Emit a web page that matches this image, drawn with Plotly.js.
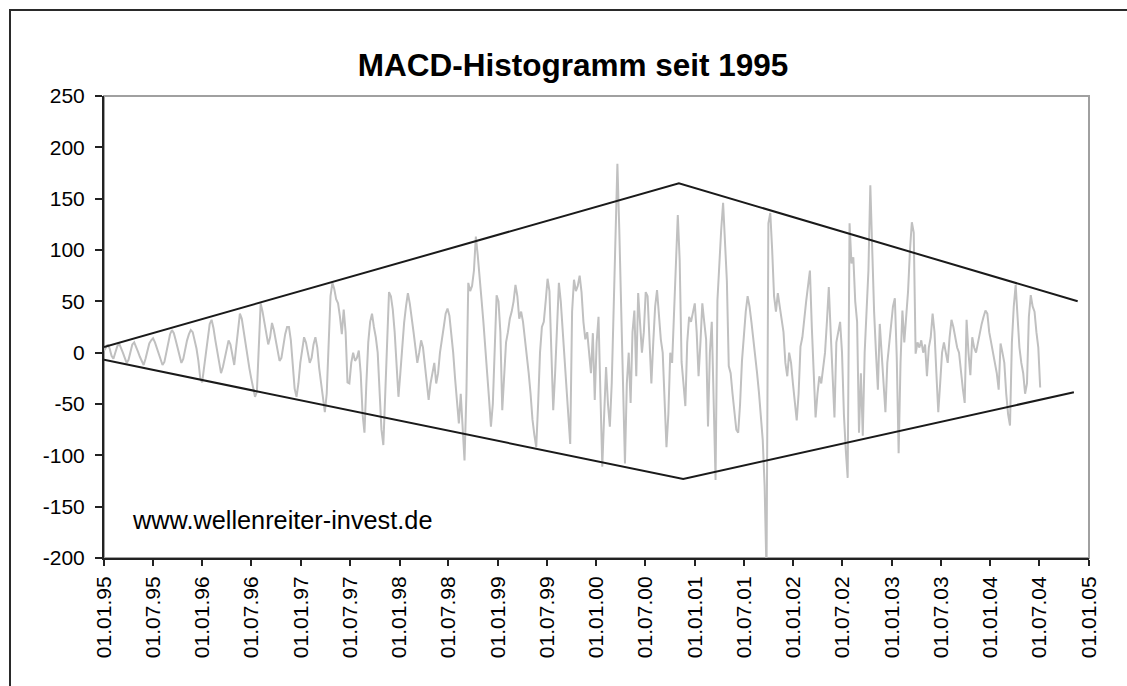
<!DOCTYPE html>
<html>
<head>
<meta charset="utf-8">
<script src="https://cdn.plot.ly/plotly-3.0.1.min.js"></script>
<style>
  html, body { margin: 0; padding: 0; background: #fff; overflow: hidden; }
  #chart { position: absolute; left: 0; top: 0; width: 1127px; height: 686px; }
  #frame { position: absolute; left: 9px; top: 9px; width: 1300px; height: 900px;
           border: 2px solid #2a2a2a; pointer-events: none; }
</style>
</head>
<body>
<div id="chart"></div>
<div id="frame"></div>
<script>
// Weekly MACD histogram, first value on 1995-01-01, one value per week
const seriesStart = '1995-01-01';
const stepDays = 7;
const macdHist = [
  2, 5, 8, 4, -3, -6, 0, 6, 9, 5,
  0, -5, -10, -7, 2, 8, 10, 6, 1, -4,
  -8, -12, -6, 3, 9, 12, 14, 10, 4, -2,
  -8, -12, -9, 0, 10, 18, 22, 19, 12, 5,
  -3, -10, -6, 4, 12, 18, 22, 20, 13, 4,
  -8, -25, -29, -15, 0, 15, 28, 32, 24, 12,
  2, -10, -20, -14, -4, 5, 12, 8, -2, -12,
  5, 22, 38, 33, 20, 8, -5, -15, -25, -35,
  -43, -38, 10, 48, 40, 30, 18, 8, 15, 29,
  22, 12, 2, -8, -5, 8, 18, 25, 25, 12,
  -15, -35, -43, -30, -10, 5, 15, 10, 0, -10,
  -5, 8, 15, 5, -15, -30, -45, -58, -40, 10,
  55, 68, 62, 52, 48, 35, 18, 42, 20, -29,
  -30, -10, 0, -8, -5, 2, -20, -60, -78, -30,
  10, 30, 38, 25, 15, 0, -40, -75, -90, -40,
  20, 59, 55, 42, 20, -15, -43, -20, 10, 29,
  45, 58, 48, 36, 20, 5, -10, 0, 12, 5,
  -10, -25, -46, -30, -20, -10, -30, -20, 0, 15,
  25, 38, 43, 36, 20, 0, -25, -50, -69, -40,
  -80, -105, -40, 68, 60, 65, 80, 113, 95, 77,
  52, 30, 0, -20, -45, -72, -50, 10, 56, 50,
  20, -56, -20, 10, 20, 33, 40, 50, 66, 55,
  33, 40, 30, 15, 0, -20, -40, -65, -80, -92,
  -50, 0, 25, 30, 50, 72, 60, 10, -56, -20,
  30, 68, 50, 20, 0, -30, -60, -89, 40, 71,
  60, 65, 75, 59, 30, 13, 20, 0, -20, 19,
  -46, 10, 35, -40, -111, -60, -14, -50, -72, -30,
  35, 123, 184, 120, 41, -20, -108, -30, 0, -49,
  20, 41, -23, 58, 30, 0, 20, 59, 55, 10,
  -30, 10, 45, 61, 35, 13, 0, -40, -92, -60,
  0, -10, 40, 87, 134, 90, -9, -30, -52, 10,
  35, 30, 38, 48, 20, -23, 10, 48, 30, 13,
  -72, 0, 30, -40, -124, 51, 93, 120, 146, 100,
  70, -13, -20, -40, -60, -75, -78, -50, -8, 20,
  40, 55, 45, 30, 15, 0, -20, -39, -60, -85,
  -130, -215, 126, 136, 100, 55, 40, 58, 45, 30,
  20, -10, -23, 0, -10, -30, -50, -66, -40, 6,
  15, 35, 50, 65, 80, 25, -20, -63, -40, -23,
  -30, -15, 0, 30, 64, 20, -20, -63, 10, 20,
  30, 0, -60, -95, -122, 126, 87, 93, 50, 30,
  -78, -20, -81, 0, 35, 80, 163, 93, 40, 0,
  -36, 28, 0, -30, -58, -10, 10, 30, 45, 53,
  -5, -98, -10, 41, 10, 35, 60, 100, 127, 117,
  -1, 10, 5, 12, 0, 8, -23, 5, 15, 38,
  20, -20, -58, -30, 0, 10, 0, -10, 15, 32,
  25, 15, 5, 0, -20, -35, -49, 32, 0, -22,
  15, 5, 0, 10, 20, 28, 35, 41, 38, 20,
  10, 0, -10, -20, -36, 9, 0, -10, -40, -60,
  -71, 10, 45, 66, 35, 5, -10, -20, -40, -30,
  35, 56, 45, 40, 20, 5, -34
];

// Trend channel lines (upper and lower)
const upperDates = ['1995-01-01', '2000-11-02', '2004-11-20'];
const upperValues = [5.5, 165, 50];
const lowerDates = ['1995-01-01', '2000-11-18', '2004-11-06'];
const lowerValues = [-7, -123, -38.6];

// Axis ticks
const tickDates = ['1995-01-01','1995-07-01','1996-01-01','1996-07-01','1997-01-01','1997-07-01',
  '1998-01-01','1998-07-01','1999-01-01','1999-07-01','2000-01-01','2000-07-01',
  '2001-01-01','2001-07-01','2002-01-01','2002-07-01','2003-01-01','2003-07-01',
  '2004-01-01','2004-07-01','2005-01-01'];
const tickLabels = ['01.01.95','01.07.95','01.01.96','01.07.96','01.01.97','01.07.97',
  '01.01.98','01.07.98','01.01.99','01.07.99','01.01.00','01.07.00',
  '01.01.01','01.07.01','01.01.02','01.07.02','01.01.03','01.07.03',
  '01.01.04','01.07.04','01.01.05'];
const yTicks = [-200, -150, -100, -50, 0, 50, 100, 150, 200, 250];
const yTickLabels = ['-200', '-150', '-100', '-50', '0', '50', '100', '150', '200', '250'];

const titleText = 'MACD-Histogramm seit 1995';
const watermark = 'www.wellenreiter-invest.de';

// build weekly dates
const dates = [];
{
  const d0 = new Date(seriesStart + 'T00:00:00Z');
  for (let i = 0; i < macdHist.length; i++) {
    const d = new Date(d0.getTime() + i * stepDays * 86400000);
    dates.push(d.toISOString().slice(0, 10));
  }
}

const FONT = 'Arial, "Liberation Sans", sans-serif';

const traces = [
  { x: dates, y: macdHist, type: 'scatter', mode: 'lines',
    line: { color: '#c0c0c0', width: 2 }, hoverinfo: 'skip' },
  { x: upperDates, y: upperValues, type: 'scatter', mode: 'lines',
    line: { color: '#1a1a1a', width: 2 }, hoverinfo: 'skip' },
  { x: lowerDates, y: lowerValues, type: 'scatter', mode: 'lines',
    line: { color: '#1a1a1a', width: 2 }, hoverinfo: 'skip' }
];

const layout = {
  width: 1127, height: 686,
  margin: { l: 104, r: 38, t: 96, b: 128 },
  paper_bgcolor: '#fff', plot_bgcolor: '#fff',
  showlegend: false,
  font: { family: FONT, color: '#000', size: 21 },
  title: { text: titleText, font: { family: FONT, size: 31.5, color: '#000', weight: 'bold' },
           xref: 'container', x: 0.5085, xanchor: 'center', yref: 'container', y: 0.906, yanchor: 'middle' },
  xaxis: {
    type: 'date', range: ['1995-01-01', '2005-01-01'],
    tickmode: 'array', tickvals: tickDates, ticktext: tickLabels, tickangle: -90,
    ticks: 'outside', ticklen: 6, tickwidth: 2, tickcolor: '#222',
    showline: true, linecolor: '#222', linewidth: 2,
    showgrid: false, zeroline: false, ticklabelstandoff: 2,
    tickfont: { family: FONT, size: 21, color: '#000' }
  },
  yaxis: {
    range: [-200, 250], tickmode: 'array', tickvals: yTicks, ticktext: yTickLabels,
    ticks: 'outside', ticklen: 7, tickwidth: 2, tickcolor: '#222',
    showline: true, linecolor: '#222', linewidth: 2,
    showgrid: false, zeroline: false, ticklabelstandoff: 6,
    tickfont: { family: FONT, size: 21, color: '#000' }
  },
  shapes: [
    { type: 'rect', xref: 'paper', yref: 'paper', x0: 0, x1: 1, y0: 0, y1: 1,
      line: { color: '#a0a0a0', width: 2 }, layer: 'below' }
  ],
  annotations: [
    { text: watermark, xref: 'paper', yref: 'paper', x: 0.0264, y: 0.0823,
      xanchor: 'left', yanchor: 'middle', showarrow: false,
      font: { family: FONT, size: 25.3, color: '#000' } }
  ]
};

Plotly.newPlot('chart', traces, layout, { displayModeBar: false, staticPlot: true });
</script>
</body>
</html>
